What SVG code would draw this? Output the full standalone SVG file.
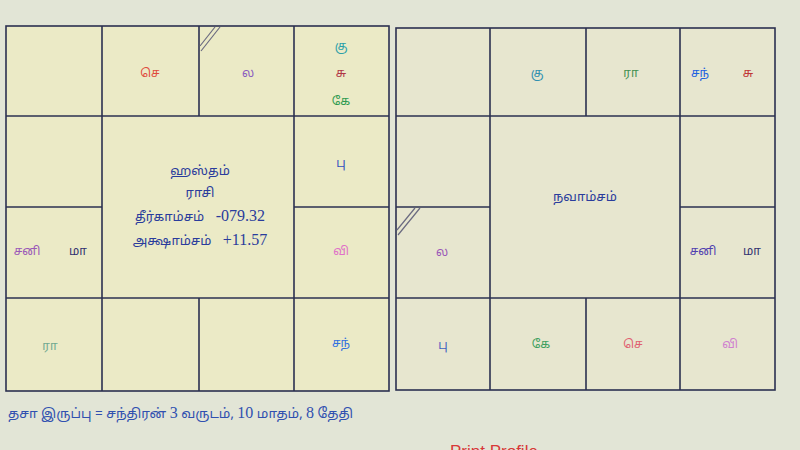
<svg xmlns="http://www.w3.org/2000/svg" width="800" height="450" viewBox="0 0 800 450">
<style>
.t{font-family:"Noto Sans Tamil","Noto Sans","DejaVu Sans",sans-serif;font-size:12px;text-anchor:middle}
.c{font-family:"Noto Sans Tamil","Noto Sans","DejaVu Sans",sans-serif;font-size:13px;text-anchor:middle;fill:#2a3c9c}
.n{font-family:"Liberation Serif",serif;font-size:16px}
.dn{font-family:"Liberation Serif",serif;font-size:16px}
.g{fill:none;stroke:#2b3050;stroke-width:1.6}
.d{fill:none;stroke:#6a6a80;stroke-width:1.2}
</style>
<rect width="800" height="450" fill="#e2e5d6"/>
<rect x="6" y="26" width="383" height="365" fill="#ebeac6"/>
<rect x="396" y="28" width="379" height="362" fill="#e7e6cf"/>

<g id="grid-lines">
<g id="rasi-grid">
<rect class="g" x="6" y="26" width="383" height="365"/>
<line class="g" x1="6" y1="116" x2="389" y2="116"/>
<line class="g" x1="6" y1="298" x2="389" y2="298"/>
<line class="g" x1="6" y1="207" x2="102" y2="207"/>
<line class="g" x1="294" y1="207" x2="389" y2="207"/>
<line class="g" x1="102" y1="26" x2="102" y2="391"/>
<line class="g" x1="294" y1="26" x2="294" y2="391"/>
<line class="g" x1="199" y1="26" x2="199" y2="116"/>
<line class="g" x1="199" y1="298" x2="199" y2="391"/>
<line class="d" x1="200" y1="46" x2="215" y2="27"/>
<line class="d" x1="201" y1="51" x2="220" y2="27"/>
</g>
<g id="navamsa-grid">
<rect class="g" x="396" y="28" width="379" height="362"/>
<line class="g" x1="396" y1="116" x2="775" y2="116"/>
<line class="g" x1="396" y1="298" x2="775" y2="298"/>
<line class="g" x1="396" y1="207" x2="490" y2="207"/>
<line class="g" x1="680" y1="207" x2="775" y2="207"/>
<line class="g" x1="490" y1="28" x2="490" y2="390"/>
<line class="g" x1="680" y1="28" x2="680" y2="390"/>
<line class="g" x1="586" y1="28" x2="586" y2="116"/>
<line class="g" x1="586" y1="298" x2="586" y2="390"/>
<line class="d" x1="397" y1="230" x2="415" y2="208"/>
<line class="d" x1="398" y1="235" x2="420" y2="208"/>
</g>
</g>

<g id="rasi">
<g id="r-c1"><text class="t" x="150" y="77" fill="#e04a3c">செ</text></g>
<g id="r-c2"><text class="t" x="248" y="77" fill="#8a5cc0">ல</text></g>
<g id="r-c3">
<text class="t" x="341" y="50" fill="#2aa0a8">கு</text>
<text class="t" x="341" y="77" fill="#b03545">சு</text>
<text class="t" x="341" y="105" fill="#2f9a50">கே</text>
</g>
<g id="r-c7"><text class="t" x="341" y="167" fill="#3050c0">பு</text></g>
<g id="r-c4">
<text class="t" x="27" y="255" fill="#9a58b8">சனி</text>
<text class="t" x="78" y="255" fill="#303070">மா</text>
</g>
<g id="r-c11"><text class="t" x="341" y="255" fill="#e070c8">வி</text></g>
<g id="r-c12"><text class="t" x="50" y="350" fill="#70a890">ரா</text></g>
<g id="r-c15"><text class="t" x="341" y="347" fill="#3070e0">சந்</text></g>
<g id="r-center">
<text class="c" x="200" y="175">ஹஸ்தம்</text>
<text class="c" x="200" y="197">ராசி</text>
<text class="c" x="200" y="221">தீர்காம்சம் <tspan class="n" dx="8">-079.32</tspan></text>
<text class="c" x="200" y="245">அக்ஷாம்சம் <tspan class="n" dx="8">+11.57</tspan></text>
</g>
</g>

<g id="navamsa">
<g id="n-c1"><text class="t" x="537" y="77" fill="#3090b0">கு</text></g>
<g id="n-c2"><text class="t" x="631" y="77" fill="#3f9050">ரா</text></g>
<g id="n-c3">
<text class="t" x="700" y="77" fill="#2060e0">சந்</text>
<text class="t" x="748" y="77" fill="#c03535">சு</text>
</g>
<g id="n-center"><text class="c" x="585" y="201">நவாம்சம்</text></g>
<g id="n-c4"><text class="t" x="442" y="256" fill="#9a58b8">ல</text></g>
<g id="n-c11">
<text class="t" x="703" y="255" fill="#5040b0">சனி</text>
<text class="t" x="752" y="255" fill="#303070">மா</text>
</g>
<g id="n-c12"><text class="t" x="443" y="349" fill="#4060c0">பு</text></g>
<g id="n-c13"><text class="t" x="541" y="348" fill="#3fa060">கே</text></g>
<g id="n-c14"><text class="t" x="633" y="348" fill="#e06070">செ</text></g>
<g id="n-c15"><text class="t" x="730" y="348" fill="#d080d0">வி</text></g>
</g>

<g id="dasa">
<text x="8" y="418" fill="#3050b0" style="font-family:'Noto Sans Tamil','Noto Sans',sans-serif;font-size:13.5px">தசா இருப்பு = சந்திரன் <tspan class="dn">3</tspan> வருடம், <tspan class="dn">10</tspan> மாதம், <tspan class="dn">8</tspan> தேதி</text>
</g>
<g id="print"><text x="450" y="457" fill="#d83838" style="font-family:'Liberation Sans',sans-serif;font-size:17px">Print Profile</text></g>
</svg>
